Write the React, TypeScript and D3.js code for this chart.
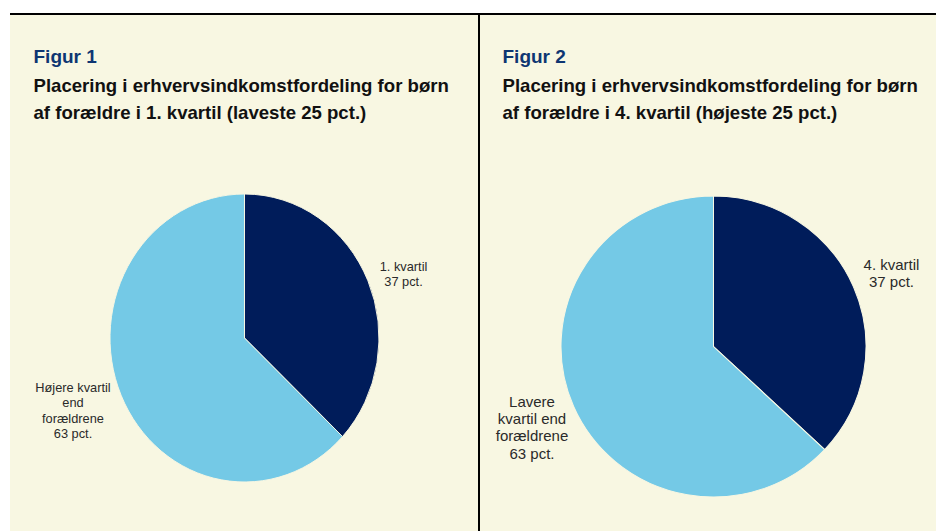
import React from "react";
import * as d3 from "d3";

const figureNumbers = ["Figur 1", "Figur 2"];
const titleLines1 = [
  "Placering i erhvervsindkomstfordeling for børn",
  "af forældre i 1. kvartil (laveste 25 pct.)",
];
const titleLines2 = [
  "Placering i erhvervsindkomstfordeling for børn",
  "af forældre i 4. kvartil (højeste 25 pct.)",
];
const categories1 = ["1. kvartil", "Højere kvartil end forældrene"];
const categories2 = ["4. kvartil", "Lavere kvartil end forældrene"];
const values1 = [37, 63];
const values2 = [37, 63];
const labelLines1 = [
  ["1. kvartil", "37 pct."],
  ["Højere kvartil", "end", "forældrene", "63 pct."],
];
const labelLines2 = [
  ["4. kvartil", "37 pct."],
  ["Lavere", "kvartil end", "forældrene", "63 pct."],
];
const sliceColors = ["#001c5a", "#74c9e6"];

const BG = "#f8f7e2";
const FONT = "'Liberation Sans', Arial, Helvetica, sans-serif";

type PanelProps = {
  x0: number;
  figure: string;
  titleLines: string[];
  values: number[];
  categories: string[];
  labels: string[][];
  cx: number;
  cy: number;
  rx: number;
  ry: number;
  labelPos: { x: number; y: number }[];
  labelSize: number;
  lineH: number;
};

function Panel(p: PanelProps) {
  const pie = d3
    .pie<number>()
    .sort(null)
    .value((d) => d)(p.values);
  const arc = d3.arc<d3.PieArcDatum<number>>().innerRadius(0).outerRadius(p.ry);
  const color = d3.scaleOrdinal<string, string>().domain(p.categories).range(sliceColors);
  return (
    <g>
      <text x={p.x0 + 23.5} y={63} fontFamily={FONT} fontWeight="bold" fontSize={19} fill="#0e3672">
        {p.figure}
      </text>
      {p.titleLines.map((t, i) => (
        <text key={i} x={p.x0 + 23.5} y={91.5 + i * 27} fontFamily={FONT} fontWeight="bold" fontSize={18.6} fill="#111">
          {t}
        </text>
      ))}
      <g transform={`translate(${p.cx},${p.cy}) scale(${p.rx / p.ry},1)`}>
        {pie.map((d, i) => (
          <path key={i} d={arc(d) || ""} fill={color(p.categories[i])} stroke={BG} strokeWidth={1} />
        ))}
      </g>
      {p.labels.map((lines, i) => (
        <text
          key={i}
          x={p.labelPos[i].x}
          y={p.labelPos[i].y}
          textAnchor="middle"
          fontFamily={FONT}
          fontSize={p.labelSize}
          fill="#2a2a2a"
        >
          {lines.map((l, j) => (
            <tspan key={j} x={p.labelPos[i].x} y={p.labelPos[i].y + j * p.lineH}>
              {l}
            </tspan>
          ))}
        </text>
      ))}
    </g>
  );
}

export default function App() {
  return (
    <svg
      width={936}
      height={531}
      style={{ position: "absolute", left: 0, top: 0, display: "block" }}
    >
      <rect x={0} y={0} width={936} height={531} fill="#fff" />
      <rect x={10} y={14} width={926} height={517} fill={BG} />
      <line x1={10} x2={936} y1={14} y2={14} stroke="#000" strokeWidth={2} />
      <line x1={479} x2={479} y1={13} y2={531} stroke="#000" strokeWidth={2} />
      <Panel
        x0={10}
        figure={figureNumbers[0]}
        titleLines={titleLines1}
        values={values1}
        categories={categories1}
        labels={labelLines1}
        cx={244.5}
        cy={338}
        rx={134.5}
        ry={144}
        labelPos={[
          { x: 403.5, y: 271 },
          { x: 73, y: 392 },
        ]}
        labelSize={12.8}
        lineH={15.3}
      />
      <Panel
        x0={479}
        figure={figureNumbers[1]}
        titleLines={titleLines2}
        values={values2}
        categories={categories2}
        labels={labelLines2}
        cx={713.5}
        cy={346.5}
        rx={152.5}
        ry={150.5}
        labelPos={[
          { x: 891.5, y: 269.5 },
          { x: 532, y: 407 },
        ]}
        labelSize={15}
        lineH={17.2}
      />
    </svg>
  );
}
